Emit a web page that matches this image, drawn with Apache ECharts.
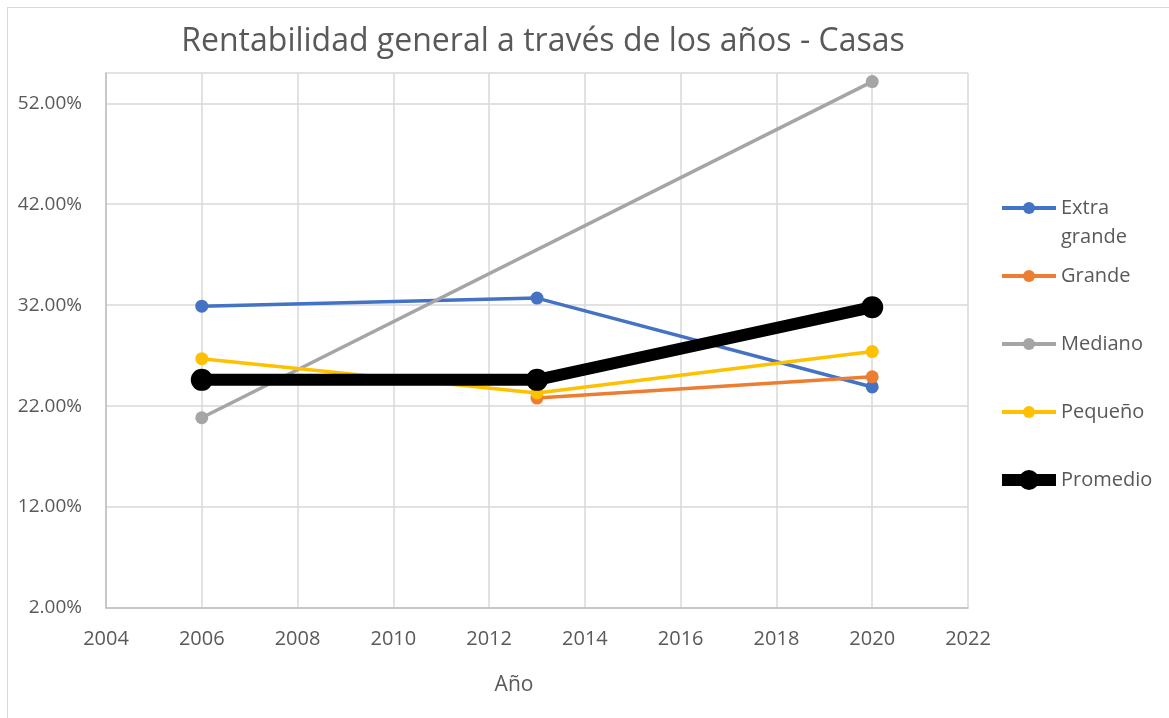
<!DOCTYPE html>
<html>
<head>
<meta charset="utf-8"/>
<title>Rentabilidad general - Casas</title>
<script src="https://cdn.jsdelivr.net/npm/echarts@6/dist/echarts.min.js"></script>
<style>
  html, body { margin: 0; padding: 0; background: #fff; }
  #frame { position: absolute; left: 7px; top: 7px; width: 1170px; height: 720px;
           border-left: 1.5px solid #d9d9d9; border-top: 1.5px solid #d9d9d9; }
  #main { position: absolute; left: 0; top: 0; width: 1169px; height: 718px; }
</style>
</head>
<body>
<div id="frame"></div>
<div id="main"></div>
<script type="text/javascript">
// datos (porcentaje)
var years = [2006, 2013, 2020];
var extraGrande = [31.9, 32.7, 23.9];
var grande = [null, 22.8, 24.9];
var mediano = [20.85, null, 54.15];
var pequeno = [26.7, 23.3, 27.4];
var promedio = [24.6, 24.6, 31.8];
var nombres = ['Extra grande', 'Grande', 'Mediano', 'Pequeño', 'Promedio'];
var colores = ['#4472C4', '#ED7D31', '#A5A5A5', '#FFC000', '#000000'];

var font = 'Open Sans';
var gris = '#595959';

function pares(vals) {
    var out = [];
    for (var i = 0; i < years.length; i++) {
        if (vals[i] !== null) out.push([years[i], vals[i]]);
    }
    return out;
}

function serie(i, vals) {
    var grueso = i === 4;
    return {
        name: nombres[i],
        type: 'line',
        data: pares(vals),
        symbol: 'circle',
        symbolSize: grueso ? 22 : 13,
        lineStyle: { color: colores[i], width: grueso ? 12 : 3.5 },
        itemStyle: { color: colores[i] },
        z: 2 + i
    };
}

// una leyenda por serie para fijar la altura de cada una
var centrosLeyenda = [208, 276, 344, 412, 480];
var altoLinea = 29;
var leyendas = nombres.map(function (n, i) {
    var grueso = i === 4;
    var extra = i === 0;
    return {
        orient: 'vertical',
        left: grueso ? 996 : 1000,
        top: extra ? centrosLeyenda[i] - altoLinea * 1.5 : centrosLeyenda[i] - altoLinea / 2,
        padding: 0,
        itemWidth: 54,
        itemHeight: grueso ? 25 : 15,
        itemGap: 0,
        selectedMode: false,
        data: [{ name: n, lineStyle: { width: grueso ? 12 : 4 } }],
        // primera linea del texto alineada con el icono
        formatter: extra ? '\nExtra\ngrande' : '{name}',
        textStyle: { fontFamily: font, fontSize: 20, color: gris, lineHeight: altoLinea }
    };
});

var dom = document.getElementById('main');
var myChart = echarts.init(dom);
var option = {
    animation: false,
    backgroundColor: 'transparent',
    graphic: [{
        type: 'text',
        x: 543,
        y: 42,
        style: {
            text: 'Rentabilidad general a través de los años - Casas',
            x: 0, y: 0,
            align: 'center',
            verticalAlign: 'middle',
            fontFamily: font,
            fontSize: 32,
            fill: gris
        }
    }],
    legend: leyendas,
    grid: { left: 106, right: 201, top: 73, bottom: 110 },
    xAxis: {
        type: 'value',
        min: 2004,
        max: 2022,
        interval: 2,
        name: 'Año',
        nameLocation: 'middle',
        nameGap: 67,
        nameTextStyle: { fontFamily: font, fontSize: 21, color: gris, padding: [0, 46, 0, 0] },
        axisLine: { show: true, lineStyle: { color: '#bfbfbf', width: 1.5 } },
        axisTick: { show: false },
        axisLabel: {
            fontFamily: font, fontSize: 20, color: gris, margin: 21,
            formatter: function (v) { return String(v); }
        },
        splitLine: { show: true, lineStyle: { color: '#d9d9d9', width: 1.5 } }
    },
    yAxis: {
        type: 'value',
        min: 2,
        max: 55,
        interval: 10,
        axisLine: { show: true, lineStyle: { color: '#bfbfbf', width: 1.5 } },
        axisTick: { show: false },
        axisLabel: {
            fontFamily: font, fontSize: 19, color: gris, margin: 24,
            showMaxLabel: false,
            formatter: function (v) { return v.toFixed(2) + '%'; }
        },
        splitLine: { show: true, lineStyle: { color: '#d9d9d9', width: 1.5 } }
    },
    series: [
        serie(0, extraGrande),
        serie(1, grande),
        serie(2, mediano),
        serie(3, pequeno),
        serie(4, promedio)
    ]
};
myChart.setOption(option);
</script>
</body>
</html>
